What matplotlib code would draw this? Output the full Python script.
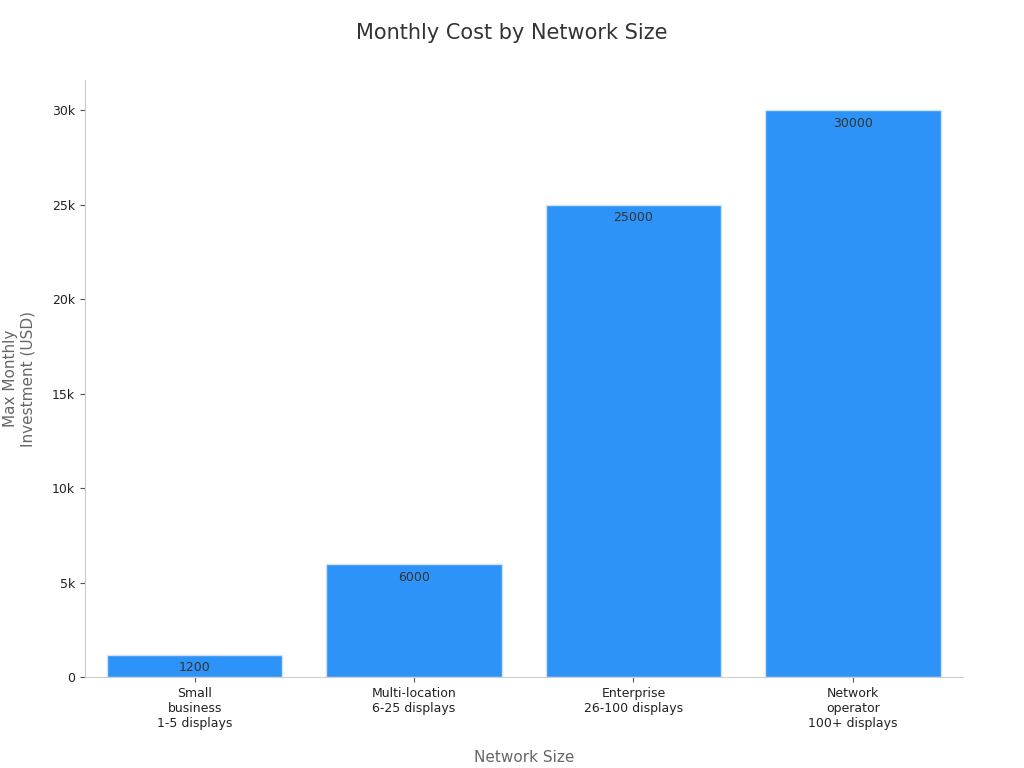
import matplotlib

matplotlib.use("Agg")
import matplotlib.pyplot as plt  # noqa: E402

categories = ["Small\nbusiness\n1-5 displays", "Multi-location\n6-25 displays",
              "Enterprise\n26-100 displays", "Network\noperator\n100+ displays"]
values = [1200, 6000, 25000, 30000]
yticks = [0, 5000, 10000, 15000, 20000, 25000, 30000]
ytick_labels = ["0", "5k", "10k", "15k", "20k", "25k", "30k"]

fig = plt.figure(figsize=(10.24, 7.68), dpi=100)
ax = fig.add_axes([0.083, 0.118, 0.857, 0.778])
x = list(range(len(categories)))
ax.bar(x, values, width=0.8, color="#2E93F8", edgecolor="#cfe3f7", linewidth=1)
for xi, v in zip(x, values):
    ax.text(xi, v - 350, str(v), ha="center", va="top", fontsize=9, color="#333333")

ax.set_xlim(-0.5, 3.5)
ax.set_ylim(0, 31600)
ax.set_xticks(x)
ax.set_xticklabels(categories, fontsize=9, color="#222222")
ax.set_yticks(yticks)
ax.set_yticklabels(ytick_labels, fontsize=9, color="#222222")
for s in ("top", "right"):
    ax.spines[s].set_visible(False)
for s in ("left", "bottom"):
    ax.spines[s].set_color("#cccccc")
ax.tick_params(colors="#555555", labelcolor="#222222")
ax.set_xlabel("Network Size", fontsize=11, color="#666666", labelpad=14)
ax.set_ylabel("Max Monthly\nInvestment (USD)", fontsize=11, color="#666666", labelpad=12)
fig.suptitle("Monthly Cost by Network Size", fontsize=15, color="#333333", y=0.97)
fig.savefig("out.png", dpi=100)
